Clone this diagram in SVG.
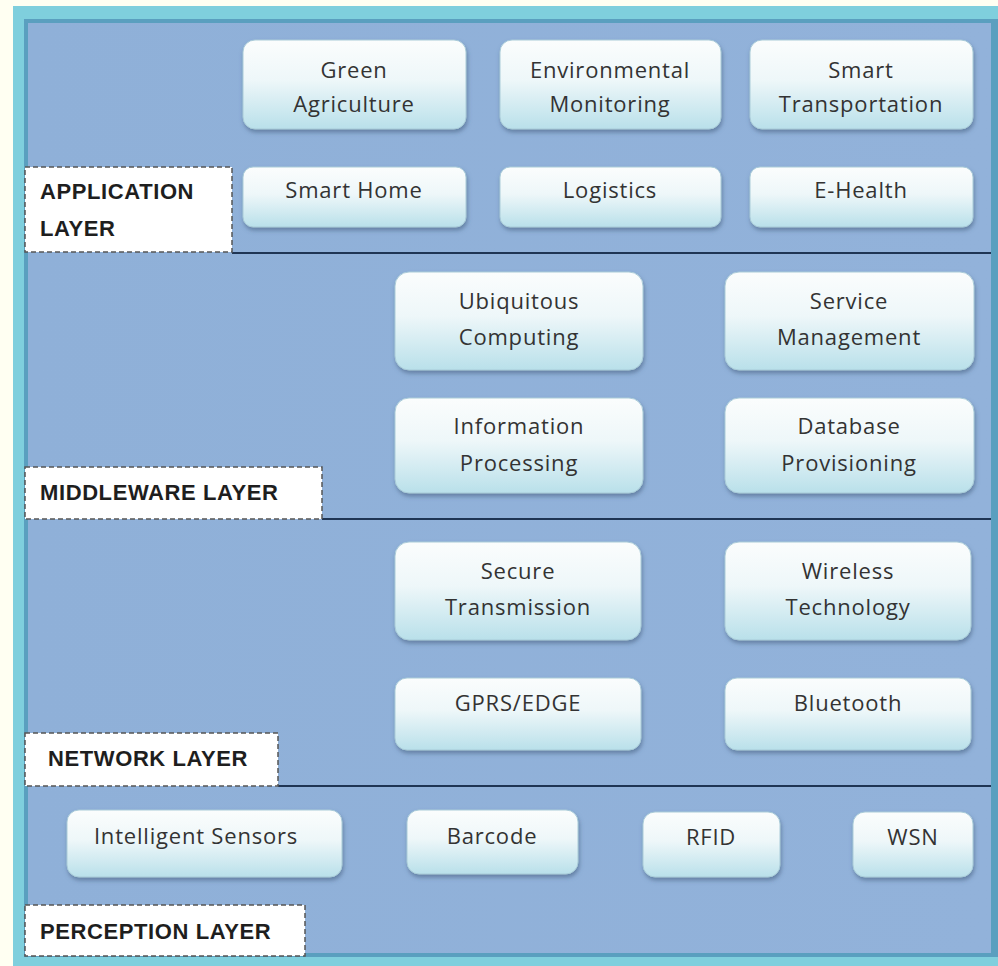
<svg xmlns="http://www.w3.org/2000/svg" width="998" height="966" viewBox="0 0 998 966">
<defs>
<linearGradient id="boxg" x1="0" y1="0" x2="0" y2="1">
<stop offset="0" stop-color="#fbfdfd"/>
<stop offset="0.45" stop-color="#eef7f9"/>
<stop offset="1" stop-color="#b9e0ea"/>
</linearGradient>
<linearGradient id="panelg" x1="0" y1="0" x2="1" y2="0">
<stop offset="0" stop-color="#8fb0d8"/>
<stop offset="1" stop-color="#92b2da"/>
</linearGradient>
<filter id="sh" x="-10%" y="-10%" width="120%" height="130%">
<feDropShadow dx="1" dy="3" stdDeviation="2" flood-color="#3c5a7a" flood-opacity="0.55"/>
</filter>
</defs>
<style>
.box{fill:url(#boxg);stroke:#a9cbd8;stroke-width:1;filter:url(#sh)}
.t{font-family:"Open Sans","Liberation Sans",sans-serif;font-size:22px;letter-spacing:0.8px;fill:#333333;text-anchor:middle}
.lbl{fill:#ffffff;stroke:#555;stroke-width:1.5;stroke-dasharray:5 3}
.lt{font-family:"Liberation Sans",Arial,sans-serif;font-weight:bold;font-size:22px;letter-spacing:0.6px;fill:#1e1e1e}
.div{stroke:#1f3554;stroke-width:2}
</style>
<rect x="0" y="0" width="998" height="966" fill="#fffff2"/>
<rect x="13" y="6" width="985" height="960" fill="#7fcfdd"/>
<rect x="24" y="19" width="974" height="938" fill="#5a9fbf"/>
<rect x="28" y="23" width="963" height="930" fill="url(#panelg)"/>

<g id="connectors">
<line class="div" x1="232" y1="253" x2="991" y2="253"/>
<line class="div" x1="322" y1="519" x2="991" y2="519"/>
<line class="div" x1="278" y1="786" x2="991" y2="786"/>
</g>

<g id="application-layer-label">
<rect class="lbl" x="25" y="167" width="207" height="85"/>
<text class="lt" x="40" y="199">APPLICATION</text>
<text class="lt" x="40" y="236">LAYER</text>
</g>
<g id="green-agriculture"><rect class="box" x="243" y="40" width="223" height="89" rx="12"/><text class="t" x="354" y="78">Green</text><text class="t" x="354" y="112">Agriculture</text></g>
<g id="environmental-monitoring"><rect class="box" x="500" y="40" width="221" height="89" rx="12"/><text class="t" x="610" y="78">Environmental</text><text class="t" x="610" y="112">Monitoring</text></g>
<g id="smart-transportation"><rect class="box" x="750" y="40" width="223" height="89" rx="12"/><text class="t" x="861" y="78">Smart</text><text class="t" x="861" y="112">Transportation</text></g>
<g id="smart-home"><rect class="box" x="243" y="167" width="223" height="60" rx="10"/><text class="t" x="354" y="198">Smart Home</text></g>
<g id="logistics"><rect class="box" x="500" y="167" width="221" height="60" rx="10"/><text class="t" x="610" y="198">Logistics</text></g>
<g id="e-health"><rect class="box" x="750" y="167" width="223" height="60" rx="10"/><text class="t" x="861" y="198">E-Health</text></g>

<g id="middleware-layer-label">
<rect class="lbl" x="25" y="467" width="297" height="52"/>
<text class="lt" x="40" y="500">MIDDLEWARE LAYER</text>
</g>
<g id="ubiquitous-computing"><rect class="box" x="395" y="272" width="248" height="98" rx="14"/><text class="t" x="519" y="309">Ubiquitous</text><text class="t" x="519" y="345">Computing</text></g>
<g id="service-management"><rect class="box" x="725" y="272" width="249" height="98" rx="14"/><text class="t" x="849" y="309">Service</text><text class="t" x="849" y="345">Management</text></g>
<g id="information-processing"><rect class="box" x="395" y="398" width="248" height="95" rx="14"/><text class="t" x="519" y="434">Information</text><text class="t" x="519" y="471">Processing</text></g>
<g id="database-provisioning"><rect class="box" x="725" y="398" width="249" height="95" rx="14"/><text class="t" x="849" y="434">Database</text><text class="t" x="849" y="471">Provisioning</text></g>

<g id="network-layer-label">
<rect class="lbl" x="25" y="733" width="253" height="53"/>
<text class="lt" x="48" y="766">NETWORK LAYER</text>
</g>
<g id="secure-transmission"><rect class="box" x="395" y="542" width="246" height="98" rx="14"/><text class="t" x="518" y="579">Secure</text><text class="t" x="518" y="615">Transmission</text></g>
<g id="wireless-technology"><rect class="box" x="725" y="542" width="246" height="98" rx="14"/><text class="t" x="848" y="579">Wireless</text><text class="t" x="848" y="615">Technology</text></g>
<g id="gprs-edge"><rect class="box" x="395" y="678" width="246" height="72" rx="12"/><text class="t" x="518" y="711">GPRS/EDGE</text></g>
<g id="bluetooth"><rect class="box" x="725" y="678" width="246" height="72" rx="12"/><text class="t" x="848" y="711">Bluetooth</text></g>

<g id="perception-layer-label">
<rect class="lbl" x="25" y="905" width="280" height="51"/>
<text class="lt" x="40" y="939">PERCEPTION LAYER</text>
</g>
<g id="intelligent-sensors"><rect class="box" x="67" y="810" width="275" height="67" rx="12"/><text class="t" x="196" y="844">Intelligent Sensors</text></g>
<g id="barcode"><rect class="box" x="407" y="810" width="171" height="64" rx="12"/><text class="t" x="492" y="844">Barcode</text></g>
<g id="rfid"><rect class="box" x="643" y="812" width="137" height="65" rx="12"/><text class="t" x="711" y="845">RFID</text></g>
<g id="wsn"><rect class="box" x="853" y="812" width="120" height="65" rx="12"/><text class="t" x="913" y="845">WSN</text></g>
</svg>
